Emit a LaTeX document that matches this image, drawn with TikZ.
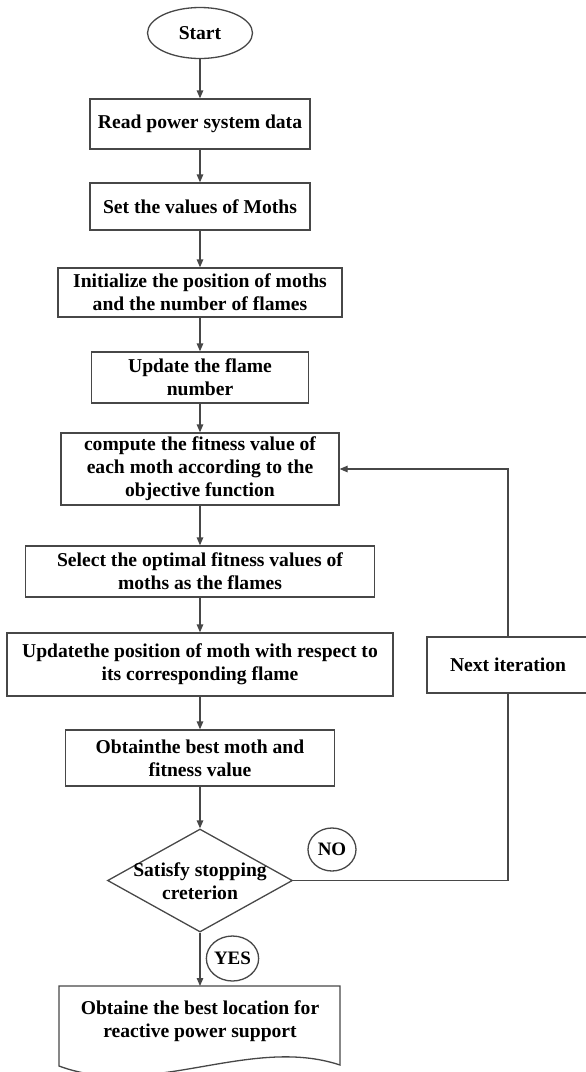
\documentclass[tikz,border=0pt]{standalone}
\usepackage{fontspec}
\setmainfont{Liberation Serif}
\usetikzlibrary{shapes.geometric,arrows.meta}
\begin{document}
\begin{tikzpicture}[x=1pt,y=-1pt,
  lineclr/.style={draw=black!72, line width=1.3pt},
  txt/.style={font=\fontsize{19.6}{23}\selectfont\bfseries, align=center, text=black},
  box/.style={lineclr, txt, rectangle, inner sep=0pt},
  oval/.style={lineclr, txt, ellipse, inner sep=0pt},
  arr/.style={lineclr, -{Triangle[length=8pt,width=6.5pt]}}
]
\useasboundingbox[fill=white] (0,0) rectangle (586,1072);

\node[oval, minimum width=105pt, minimum height=51pt] (start) at (200,33) {Start};
\node[box, minimum width=220pt, minimum height=50pt] (read) at (200,124) {Read power system data};
\node[box, minimum width=220pt, minimum height=47pt] (set) at (200,206.5) {Set the values of Moths};
\node[box, minimum width=284pt, minimum height=49pt] (init) at (200,292.5) {Initialize the position of moths\\and the number of flames};
\node[box, minimum width=217pt, minimum height=51pt] (flame) at (200,377.5) {Update the flame\\number};
\node[box, minimum width=278pt, minimum height=72pt] (comp) at (200,469) {compute the fitness value of\\each moth according to the\\objective function};
\node[box, minimum width=349pt, minimum height=51pt] (sel) at (200,571.5) {Select the optimal fitness values of\\moths as the flames};
\node[box, minimum width=386pt, minimum height=63pt] (upd) at (200,664.5) {Updatethe position of moth with respect to\\its corresponding flame};
\node[box, minimum width=162pt, minimum height=56pt] (next) at (508,665) {Next iteration};
\node[box, minimum width=269pt, minimum height=56pt] (obt) at (200,758) {Obtainthe best moth and\\fitness value};
\node[lineclr, diamond, minimum width=185pt, minimum height=103pt, inner sep=0pt] (dia) at (200,880.5) {};
\node[txt] (diatext) at (200,881.5) {Satisfy stopping\\creterion};
\node[oval, minimum width=48pt, minimum height=43pt, font=\fontsize{19}{23}\selectfont\bfseries] (no) at (332,849.5) {NO};
\node[oval, minimum width=49pt, minimum height=45pt, font=\fontsize{19}{23}\selectfont\bfseries] (yes) at (232.5,958.5) {YES};

\node[txt] (doc) at (200,1021.5) {Obtaine the best location for\\reactive power support};
\draw[lineclr] (59,986) -- (340,986) -- (340,1065)
  .. controls (250,1035) and (150,1100) .. (59,1066) -- cycle;
\coordinate (doctop) at (200,986);

\draw[arr] (start) -- (read);
\draw[arr] (read) -- (set);
\draw[arr] (set) -- (init);
\draw[arr] (init) -- (flame);
\draw[arr] (flame) -- (comp);
\draw[arr] (comp) -- (sel);
\draw[arr] (sel) -- (upd);
\draw[arr] (upd) -- (obt);
\draw[arr] (obt) -- (dia.north);
\draw[arr] (dia.south) -- (doctop);
\draw[lineclr] (dia.east) -| (next.south);
\draw[arr] (next.north) |- (comp.east);
\end{tikzpicture}
\end{document}
